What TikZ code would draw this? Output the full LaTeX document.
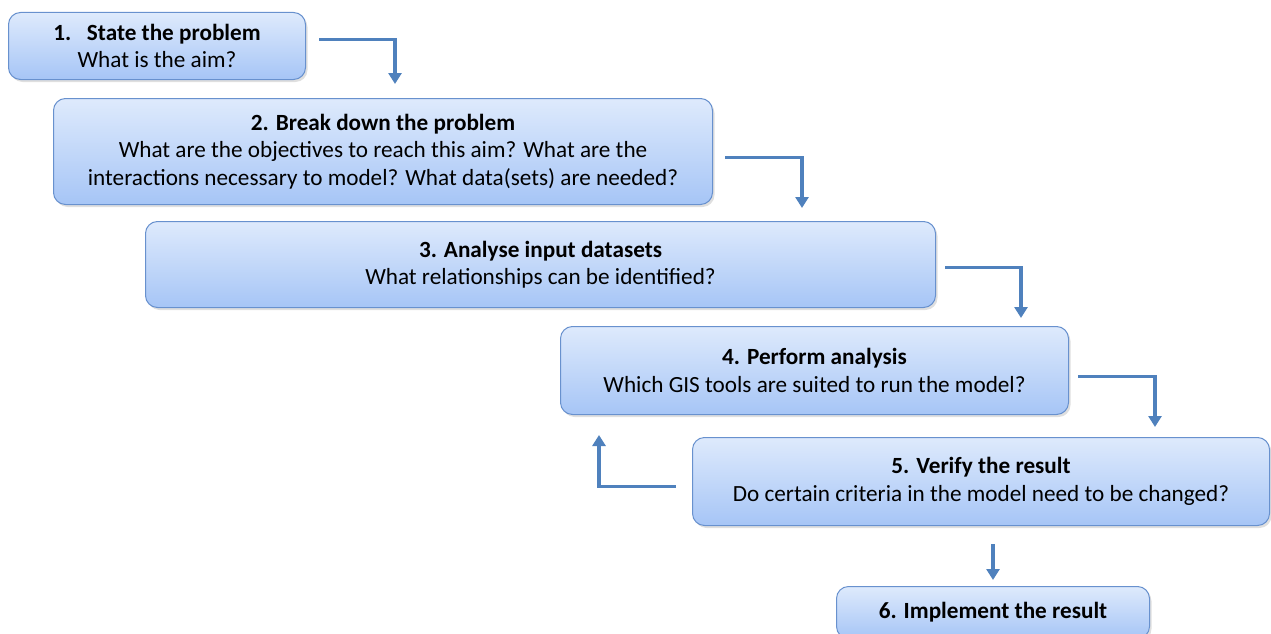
\documentclass[tikz,border=0pt]{standalone}
\usepackage{fontspec}
\setmainfont{Carlito}
\usetikzlibrary{positioning,arrows.meta,shadows}
\definecolor{boxtop}{RGB}{222,234,252}
\definecolor{boxbottom}{RGB}{166,197,246}
\definecolor{boxedge}{RGB}{104,145,206}
\definecolor{flowblue}{RGB}{79,129,189}

\begin{document}
\begin{tikzpicture}[x=1pt,y=-1pt,
  stepbox/.style={draw=boxedge,line width=1pt,rounded corners=12pt,
    top color=boxtop,bottom color=boxbottom,anchor=north west,align=center,
    inner sep=0pt,font=\fontsize{23.2}{27.5}\selectfont,
    drop shadow={shadow xshift=2pt,shadow yshift=-2.5pt,opacity=0.25}},
  flow/.style={draw=flowblue,line width=3.5pt,-{Triangle[width=13pt,length=11pt]}}
]
  \useasboundingbox (0,0) rectangle (1271,634);
  \clip (0,0) rectangle (1271,634);

  % the six steps
  \node[stepbox,minimum width=297pt,minimum height=67pt] (s1) at (8,12)
    {\textbf{1.\ \ \ State the problem}\\What is the aim?};
  \node[stepbox,minimum width=659pt,minimum height=106pt] (s2) at (53,98)
    {\textbf{2. Break down the problem}\\What are the objectives to reach this aim? What are the\\interactions necessary to model? What data(sets) are needed?};
  \node[stepbox,minimum width=790pt,minimum height=86pt] (s3) at (145,221)
    {\textbf{3. Analyse input datasets}\\What relationships can be identified?};
  \node[stepbox,minimum width=508pt,minimum height=88pt] (s4) at (560,326)
    {\textbf{4. Perform analysis}\\Which GIS tools are suited to run the model?};
  \node[stepbox,minimum width=577pt,minimum height=88pt] (s5) at (692,437)
    {\textbf{5. Verify the result}\\Do certain criteria in the model need to be changed?};
  \node[stepbox,minimum width=313pt,minimum height=52pt] (s6) at (836,586)
    {\textbf{6. Implement the result}};

  % arrow ends
  \coordinate (a1) at (395,84);
  \coordinate (a2) at (802,208);
  \coordinate (a3) at (1021,318);
  \coordinate (a4) at (1155,427);
  \coordinate (a5) at (599,435);
  \coordinate (a6) at (993,580);

  \draw[flow] ([shift={(13,-6.5)}]s1.east) -| (a1);
  \draw[flow] ([shift={(12,6)}]s2.east) -| (a2);
  \draw[flow] ([shift={(9,3)}]s3.east) -| (a3);
  \draw[flow] ([shift={(9,6)}]s4.east) -| (a4);
  \draw[flow] ([shift={(-16,5)}]s5.west) -| (a5);
  \draw[flow] ([shift={(12,18)}]s5.south) -- (a6);
\end{tikzpicture}
\end{document}
